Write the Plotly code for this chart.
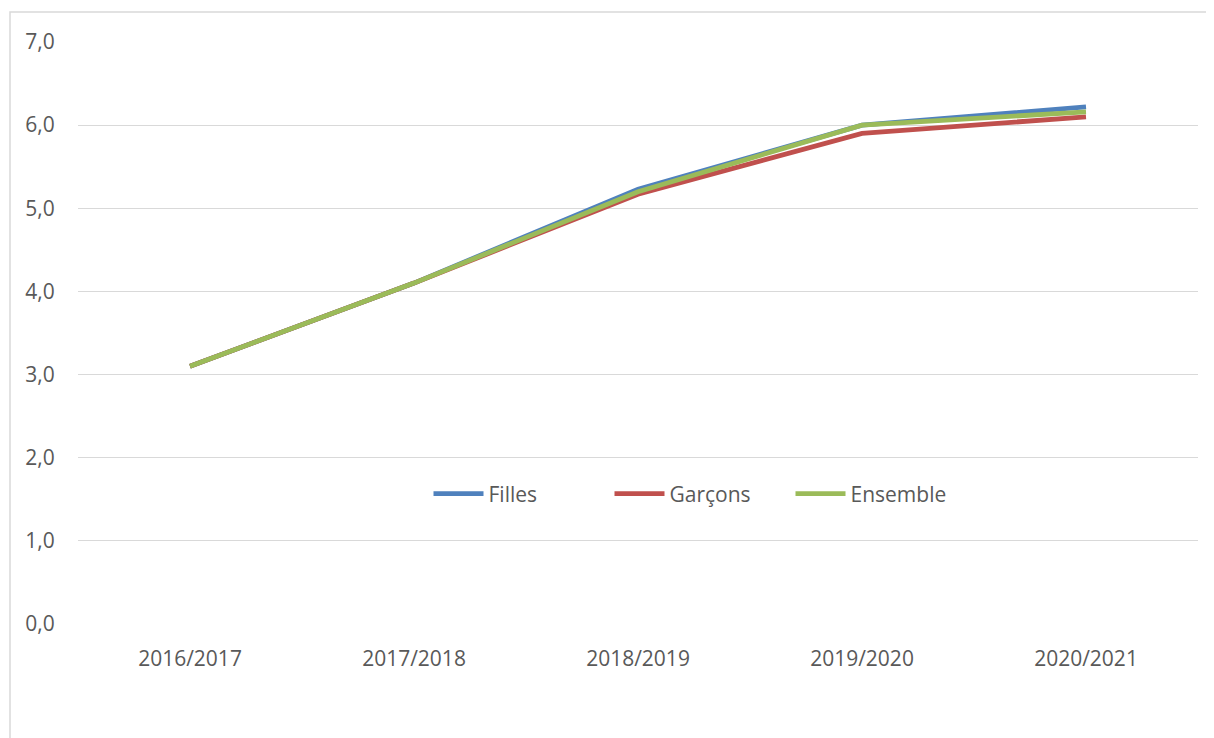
import plotly.graph_objects as go

categories = ["2016/2017", "2017/2018", "2018/2019", "2019/2020", "2020/2021"]
filles = [3.1, 4.1, 5.23, 6.0, 6.22]
garcons = [3.1, 4.1, 5.17, 5.9, 6.1]
ensemble = [3.1, 4.1, 5.2, 6.0, 6.16]
y_ticks = [0, 1, 2, 3, 4, 5, 6, 7]
y_tick_labels = ["0,0", "1,0", "2,0", "3,0", "4,0", "5,0", "6,0", "7,0"]

series = [
    ("Filles", filles, "#4F81BD"),
    ("Garçons", garcons, "#C0504D"),
    ("Ensemble", ensemble, "#9BBB59"),
]

fig = go.Figure()
for name, vals, color in series:
    fig.add_trace(go.Scatter(x=categories, y=vals, name=name, mode="lines",
                             line=dict(color=color, width=4.8)))

# page has an 8px body margin: figure is 1206x730 so the screenshot matches
W, H = 1206, 730
L, T, PW, PH = 70, 34, 1120, 582
font_family = "'Open Sans', 'Noto Sans', sans-serif"
FS = 21
fig.update_layout(
    width=W, height=H,
    margin=dict(l=L, r=W - L - PW, t=T, b=H - T - PH),
    paper_bgcolor="white", plot_bgcolor="white",
    font=dict(family=font_family, size=FS, color="#595959"),
    showlegend=True,
    legend=dict(orientation="h", x=(700 - 8 - L) / PW, y=(624 - 494) / 582,
                xanchor="center", yanchor="middle",
                font=dict(size=FS, color="#595959"), entrywidth=116, entrywidthmode="pixels",
                itemwidth=50, bgcolor="rgba(0,0,0,0)"),
    xaxis=dict(showgrid=False, showline=False, zeroline=False, ticks="outside",
               ticklen=16, tickcolor="rgba(0,0,0,0)", tickfont=dict(size=FS, color="#595959"),
               range=[-0.5, 4.5]),
    yaxis=dict(range=[0, 7], tickvals=y_ticks, ticktext=y_tick_labels, showgrid=True,
               gridcolor="#D9D9D9", gridwidth=1.3, zeroline=False, showline=False,
               ticks="outside", ticklen=18, tickcolor="rgba(0,0,0,0)",
               tickfont=dict(size=FS, color="#595959")),
)
fig.add_shape(type="rect", xref="paper", yref="paper",
              x0=(10 - 8 - L) / PW, x1=1.1, y0=-0.3, y1=(624 - 12) / 582,
              line=dict(color="#D9D9D9", width=1.5), fillcolor="rgba(0,0,0,0)", layer="below")

fig.write_html("out.html")
